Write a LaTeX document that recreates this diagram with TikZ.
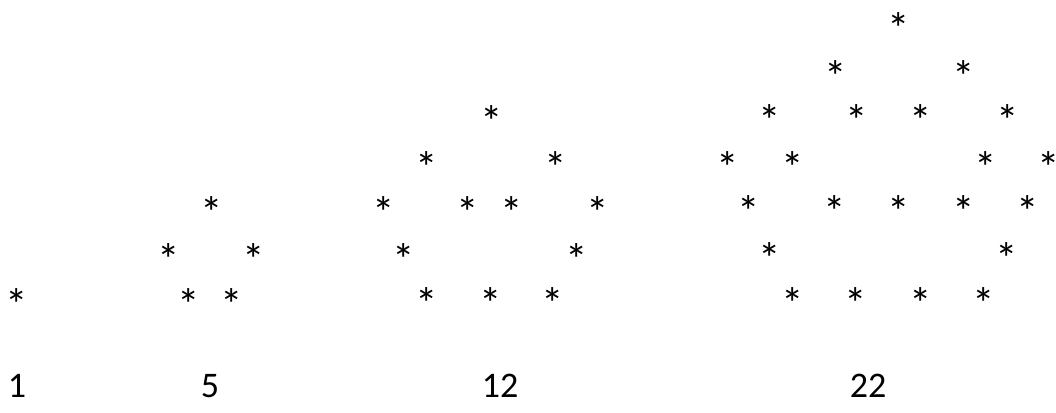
\documentclass[tikz,border=0pt]{standalone}
\usepackage{fontspec}
\setmainfont{Carlito}
\begin{document}
\begin{tikzpicture}[x=1pt,y=-1pt,
  ast/.style={inner sep=0pt, anchor=base, yshift=-25pt, font=\fontsize{45}{45}\selectfont},
  num/.style={inner sep=0pt, anchor=base, font=\fontsize{36}{36}\selectfont}]
\useasboundingbox (0,0) rectangle (1056,412);
% 1
\node[ast] (a1) at (17,295) {*};
% 5
\node[ast] (b1) at (212,203) {*};
\node[ast] (b2) at (169,250) {*};
\node[ast] (b3) at (254,250) {*};
\node[ast] (b4) at (189,295) {*};
\node[ast] (b5) at (232,295) {*};
% 12
\node[ast] (c1) at (492,112) {*};
\node[ast] (c2) at (427,158) {*};
\node[ast] (c3) at (556,158) {*};
\node[ast] (c4) at (384,203) {*};
\node[ast] (c5) at (468,203) {*};
\node[ast] (c6) at (512,203) {*};
\node[ast] (c7) at (598,203) {*};
\node[ast] (c8) at (404,250) {*};
\node[ast] (c9) at (577,250) {*};
\node[ast] (c10) at (427,294) {*};
\node[ast] (c11) at (491,294) {*};
\node[ast] (c12) at (553,294) {*};
% 22
\node[ast] (d1) at (899,20) {*};
\node[ast] (d2) at (836,67) {*};
\node[ast] (d3) at (964,67) {*};
\node[ast] (d4) at (770,111) {*};
\node[ast] (d5) at (857,111) {*};
\node[ast] (d6) at (921,111) {*};
\node[ast] (d7) at (1008,111) {*};
\node[ast] (d8) at (728,158) {*};
\node[ast] (d9) at (793,158) {*};
\node[ast] (d10) at (986,158) {*};
\node[ast] (d11) at (1049,158) {*};
\node[ast] (d12) at (749,202) {*};
\node[ast] (d13) at (835,202) {*};
\node[ast] (d14) at (899,202) {*};
\node[ast] (d15) at (964,202) {*};
\node[ast] (d16) at (1028,202) {*};
\node[ast] (d17) at (770,249) {*};
\node[ast] (d18) at (1007,249) {*};
\node[ast] (d19) at (793,294) {*};
\node[ast] (d20) at (856,294) {*};
\node[ast] (d21) at (921,294) {*};
\node[ast] (d22) at (984,294) {*};
% numbers
\node[num] (l1) at (17,397) {1};
\node[num] (l2) at (210,397) {5};
\node[num] (l3) at (500,397) {12};
\node[num] (l4) at (868,397) {22};
\end{tikzpicture}
\end{document}
